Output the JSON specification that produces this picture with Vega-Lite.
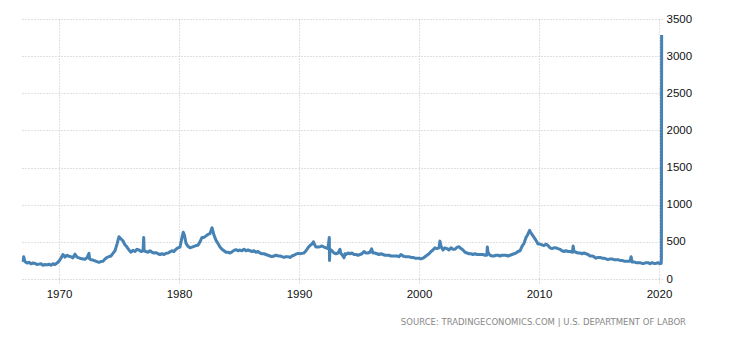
{
  "$schema": "https://vega.github.io/schema/vega-lite/v6.json",
  "width": 641,
  "height": 260,
  "autosize": "none",
  "padding": {"left": 21, "top": 19, "right": 68, "bottom": 61},
  "background": "white",
  "config": {"view": {"stroke": null}},
  "title": {"text": "SOURCE: TRADINGECONOMICS.COM | U.S. DEPARTMENT OF LABOR", "orient": "bottom", "anchor": "end", "frame": "group", "fontSize": 8.5, "font": "DejaVu Sans", "fontWeight": "normal", "color": "#888888", "offset": 18, "dx": 24},
  "data": {"values": [
    {"d":"1967-01-07","v":230},{"d":"1967-01-21","v":300},{"d":"1967-03-01","v":235},{"d":"1967-05-01","v":215},{"d":"1967-07-01","v":225},{"d":"1967-09-01","v":205},{"d":"1967-11-01","v":215},
    {"d":"1968-01-01","v":210},{"d":"1968-03-01","v":195},{"d":"1968-05-01","v":200},{"d":"1968-07-01","v":205},{"d":"1968-09-01","v":185},{"d":"1968-11-01","v":195},
    {"d":"1969-01-01","v":190},{"d":"1969-03-01","v":200},{"d":"1969-05-01","v":185},{"d":"1969-07-01","v":205},{"d":"1969-09-01","v":195},{"d":"1969-11-01","v":215},
    {"d":"1970-01-01","v":240},{"d":"1970-03-01","v":280},{"d":"1970-05-01","v":330},{"d":"1970-07-01","v":295},{"d":"1970-09-01","v":320},{"d":"1970-11-01","v":305},
    {"d":"1971-01-01","v":300},{"d":"1971-03-01","v":285},{"d":"1971-05-01","v":335},{"d":"1971-07-01","v":295},{"d":"1971-09-01","v":285},{"d":"1971-11-01","v":275},
    {"d":"1972-01-01","v":270},{"d":"1972-03-01","v":265},{"d":"1972-05-01","v":285},{"d":"1972-07-01","v":345},{"d":"1972-07-20","v":270},{"d":"1972-09-01","v":260},{"d":"1972-11-01","v":255},
    {"d":"1973-01-01","v":245},{"d":"1973-03-01","v":235},{"d":"1973-05-01","v":225},{"d":"1973-07-01","v":235},{"d":"1973-09-01","v":240},{"d":"1973-11-01","v":270},
    {"d":"1974-01-01","v":290},{"d":"1974-03-01","v":300},{"d":"1974-05-01","v":310},{"d":"1974-07-01","v":345},{"d":"1974-09-01","v":380},{"d":"1974-11-01","v":470},
    {"d":"1975-01-01","v":570},{"d":"1975-03-01","v":540},{"d":"1975-05-01","v":515},{"d":"1975-07-01","v":460},{"d":"1975-09-01","v":430},{"d":"1975-11-01","v":390},
    {"d":"1976-01-01","v":360},{"d":"1976-03-01","v":385},{"d":"1976-05-01","v":370},{"d":"1976-07-01","v":400},{"d":"1976-09-01","v":390},{"d":"1976-11-01","v":370},
    {"d":"1977-01-01","v":380},{"d":"1977-01-22","v":560},{"d":"1977-02-05","v":380},{"d":"1977-04-01","v":370},{"d":"1977-06-01","v":360},{"d":"1977-08-01","v":380},{"d":"1977-10-01","v":360},{"d":"1977-12-01","v":350},
    {"d":"1978-02-01","v":355},{"d":"1978-04-01","v":340},{"d":"1978-06-01","v":330},{"d":"1978-08-01","v":340},{"d":"1978-10-01","v":330},{"d":"1978-12-01","v":345},
    {"d":"1979-02-01","v":350},{"d":"1979-04-01","v":365},{"d":"1979-06-01","v":380},{"d":"1979-08-01","v":370},{"d":"1979-10-01","v":400},{"d":"1979-12-01","v":420},
    {"d":"1980-02-01","v":430},{"d":"1980-04-01","v":560},{"d":"1980-05-10","v":630},{"d":"1980-06-15","v":590},{"d":"1980-08-01","v":480},{"d":"1980-10-01","v":440},{"d":"1980-12-01","v":420},
    {"d":"1981-02-01","v":430},{"d":"1981-04-01","v":440},{"d":"1981-06-01","v":450},{"d":"1981-08-01","v":455},{"d":"1981-10-01","v":500},{"d":"1981-12-01","v":560},
    {"d":"1982-02-01","v":560},{"d":"1982-04-01","v":580},{"d":"1982-06-01","v":600},{"d":"1982-08-01","v":610},{"d":"1982-10-01","v":690},{"d":"1982-12-01","v":590},
    {"d":"1983-02-01","v":520},{"d":"1983-04-01","v":480},{"d":"1983-06-01","v":430},{"d":"1983-08-01","v":400},{"d":"1983-10-01","v":380},{"d":"1983-12-01","v":360},
    {"d":"1984-02-01","v":360},{"d":"1984-04-01","v":350},{"d":"1984-06-01","v":365},{"d":"1984-08-01","v":385},{"d":"1984-10-01","v":395},{"d":"1984-12-01","v":380},
    {"d":"1985-02-01","v":390},{"d":"1985-04-01","v":380},{"d":"1985-06-01","v":400},{"d":"1985-08-01","v":380},{"d":"1985-10-01","v":390},{"d":"1985-12-01","v":380},
    {"d":"1986-02-01","v":370},{"d":"1986-04-01","v":380},{"d":"1986-06-01","v":360},{"d":"1986-08-01","v":370},{"d":"1986-10-01","v":350},{"d":"1986-12-01","v":340},
    {"d":"1987-02-01","v":340},{"d":"1987-04-01","v":330},{"d":"1987-06-01","v":320},{"d":"1987-08-01","v":310},{"d":"1987-10-01","v":300},{"d":"1987-12-01","v":310},
    {"d":"1988-02-01","v":320},{"d":"1988-04-01","v":310},{"d":"1988-06-01","v":310},{"d":"1988-08-01","v":300},{"d":"1988-10-01","v":290},{"d":"1988-12-01","v":300},
    {"d":"1989-02-01","v":300},{"d":"1989-04-01","v":290},{"d":"1989-06-01","v":310},{"d":"1989-08-01","v":320},{"d":"1989-10-01","v":335},{"d":"1989-12-01","v":345},
    {"d":"1990-02-01","v":340},{"d":"1990-04-01","v":345},{"d":"1990-06-01","v":350},{"d":"1990-08-01","v":380},{"d":"1990-10-01","v":420},{"d":"1990-12-01","v":450},
    {"d":"1991-02-01","v":470},{"d":"1991-03-15","v":500},{"d":"1991-04-20","v":465},{"d":"1991-06-01","v":430},{"d":"1991-08-01","v":430},{"d":"1991-10-01","v":435},{"d":"1991-12-01","v":445},
    {"d":"1992-02-01","v":430},{"d":"1992-04-01","v":420},{"d":"1992-06-01","v":410},{"d":"1992-07-10","v":560},{"d":"1992-07-17","v":250},{"d":"1992-07-31","v":400},{"d":"1992-10-01","v":380},{"d":"1992-12-01","v":350},
    {"d":"1993-02-01","v":340},{"d":"1993-04-01","v":350},{"d":"1993-06-01","v":400},{"d":"1993-07-01","v":340},{"d":"1993-08-01","v":330},{"d":"1993-10-01","v":285},{"d":"1993-11-01","v":340},{"d":"1993-12-01","v":330},
    {"d":"1994-02-01","v":350},{"d":"1994-04-01","v":340},{"d":"1994-06-01","v":350},{"d":"1994-08-01","v":330},{"d":"1994-10-01","v":330},{"d":"1994-12-01","v":320},
    {"d":"1995-02-01","v":330},{"d":"1995-04-01","v":340},{"d":"1995-06-01","v":370},{"d":"1995-08-01","v":350},{"d":"1995-10-01","v":350},{"d":"1995-12-01","v":360},
    {"d":"1996-01-20","v":405},{"d":"1996-03-01","v":350},{"d":"1996-05-01","v":350},{"d":"1996-07-01","v":340},{"d":"1996-09-01","v":330},{"d":"1996-11-01","v":340},
    {"d":"1997-01-01","v":330},{"d":"1997-03-01","v":320},{"d":"1997-05-01","v":320},{"d":"1997-07-01","v":320},{"d":"1997-09-01","v":310},{"d":"1997-11-01","v":310},
    {"d":"1998-01-01","v":310},{"d":"1998-03-01","v":310},{"d":"1998-05-01","v":300},{"d":"1998-07-01","v":330},{"d":"1998-09-01","v":310},{"d":"1998-11-01","v":300},
    {"d":"1999-01-01","v":300},{"d":"1999-03-01","v":300},{"d":"1999-05-01","v":290},{"d":"1999-07-01","v":290},{"d":"1999-09-01","v":280},{"d":"1999-11-01","v":280},
    {"d":"2000-01-01","v":280},{"d":"2000-03-01","v":270},{"d":"2000-05-01","v":280},{"d":"2000-07-01","v":300},{"d":"2000-09-01","v":320},{"d":"2000-11-01","v":340},
    {"d":"2001-01-01","v":370},{"d":"2001-03-01","v":390},{"d":"2001-05-01","v":420},{"d":"2001-07-01","v":410},{"d":"2001-09-01","v":420},{"d":"2001-09-29","v":510},{"d":"2001-11-01","v":440},
    {"d":"2002-01-01","v":390},{"d":"2002-03-01","v":420},{"d":"2002-05-01","v":410},{"d":"2002-07-01","v":390},{"d":"2002-09-01","v":420},{"d":"2002-11-01","v":400},
    {"d":"2003-01-01","v":400},{"d":"2003-03-01","v":425},{"d":"2003-05-01","v":435},{"d":"2003-07-01","v":410},{"d":"2003-09-01","v":390},{"d":"2003-11-01","v":360},
    {"d":"2004-01-01","v":350},{"d":"2004-03-01","v":340},{"d":"2004-05-01","v":340},{"d":"2004-07-01","v":330},{"d":"2004-09-01","v":340},{"d":"2004-11-01","v":330},
    {"d":"2005-01-01","v":330},{"d":"2005-03-01","v":330},{"d":"2005-05-01","v":330},{"d":"2005-07-01","v":320},{"d":"2005-08-25","v":320},{"d":"2005-09-10","v":430},{"d":"2005-10-01","v":360},{"d":"2005-12-01","v":320},
    {"d":"2006-02-01","v":310},{"d":"2006-04-01","v":310},{"d":"2006-06-01","v":320},{"d":"2006-08-01","v":320},{"d":"2006-10-01","v":310},{"d":"2006-12-01","v":320},
    {"d":"2007-02-01","v":320},{"d":"2007-04-01","v":320},{"d":"2007-06-01","v":310},{"d":"2007-08-01","v":320},{"d":"2007-10-01","v":330},{"d":"2007-12-01","v":340},
    {"d":"2008-02-01","v":350},{"d":"2008-04-01","v":370},{"d":"2008-06-01","v":380},{"d":"2008-08-01","v":440},{"d":"2008-10-01","v":480},{"d":"2008-12-01","v":560},
    {"d":"2009-01-15","v":590},{"d":"2009-03-20","v":655},{"d":"2009-04-20","v":630},{"d":"2009-06-01","v":600},{"d":"2009-08-01","v":560},{"d":"2009-10-01","v":520},{"d":"2009-12-01","v":470},
    {"d":"2010-02-01","v":470},{"d":"2010-04-01","v":460},{"d":"2010-06-01","v":450},{"d":"2010-08-01","v":470},{"d":"2010-10-01","v":450},{"d":"2010-12-01","v":420},
    {"d":"2011-02-01","v":410},{"d":"2011-04-01","v":420},{"d":"2011-06-01","v":420},{"d":"2011-08-01","v":410},{"d":"2011-10-01","v":400},{"d":"2011-12-01","v":380},
    {"d":"2012-02-01","v":370},{"d":"2012-04-01","v":380},{"d":"2012-06-01","v":370},{"d":"2012-08-01","v":370},{"d":"2012-10-15","v":360},{"d":"2012-11-05","v":445},{"d":"2012-12-01","v":370},
    {"d":"2013-02-01","v":360},{"d":"2013-04-01","v":350},{"d":"2013-06-01","v":350},{"d":"2013-08-01","v":340},{"d":"2013-10-01","v":350},{"d":"2013-12-01","v":340},
    {"d":"2014-02-01","v":330},{"d":"2014-04-01","v":310},{"d":"2014-06-01","v":310},{"d":"2014-08-01","v":300},{"d":"2014-10-01","v":280},{"d":"2014-12-01","v":290},
    {"d":"2015-02-01","v":290},{"d":"2015-04-01","v":280},{"d":"2015-06-01","v":280},{"d":"2015-08-01","v":270},{"d":"2015-10-01","v":260},{"d":"2015-12-01","v":270},
    {"d":"2016-02-01","v":270},{"d":"2016-04-01","v":260},{"d":"2016-06-01","v":260},{"d":"2016-08-01","v":260},{"d":"2016-10-01","v":250},{"d":"2016-12-01","v":250},
    {"d":"2017-02-01","v":240},{"d":"2017-04-01","v":240},{"d":"2017-06-01","v":240},{"d":"2017-08-01","v":240},{"d":"2017-09-05","v":300},{"d":"2017-10-01","v":230},{"d":"2017-12-01","v":230},
    {"d":"2018-02-01","v":220},{"d":"2018-04-01","v":220},{"d":"2018-06-01","v":220},{"d":"2018-08-01","v":210},{"d":"2018-10-01","v":210},{"d":"2018-12-01","v":220},
    {"d":"2019-02-01","v":220},{"d":"2019-04-01","v":205},{"d":"2019-06-01","v":220},{"d":"2019-08-01","v":210},{"d":"2019-10-01","v":210},{"d":"2019-12-01","v":220},
    {"d":"2020-01-10","v":210},{"d":"2020-02-10","v":210},{"d":"2020-03-07","v":210},{"d":"2020-03-14","v":280},{"d":"2020-03-21","v":3283}
  ]},
  "mark": {"type": "line", "color": "#4682b4", "strokeWidth": 3, "strokeJoin": "round"},
  "encoding": {
    "x": {"field": "d", "type": "temporal",
      "scale": {"domain": ["1966-11-01", "2020-04-01"]},
      "axis": {"title": null, "format": "%Y", "values": ["1970-01-01", "1980-01-01", "1990-01-01", "2000-01-01", "2010-01-01", "2020-01-01"],
        "domain": false, "grid": true, "gridColor": "#c0c0c0", "gridDash": [1, 2], "gridWidth": 1,
        "ticks": true, "tickColor": "#c0c0c0", "tickSize": 5, "tickDash": [1, 2],
        "labelFont": "Liberation Sans", "labelFontSize": 11.5, "labelColor": "#111111", "labelPadding": 4}},
    "y": {"field": "v", "type": "quantitative",
      "scale": {"domain": [0, 3500], "nice": false},
      "axis": {"title": null, "orient": "right", "format": "d", "values": [0, 500, 1000, 1500, 2000, 2500, 3000, 3500],
        "domain": false, "ticks": false, "grid": true, "gridColor": "#c0c0c0", "gridDash": [1, 2], "gridWidth": 1,
        "labelFont": "Liberation Sans", "labelFontSize": 11.5, "labelColor": "#111111", "labelPadding": 4}}
  }
}
